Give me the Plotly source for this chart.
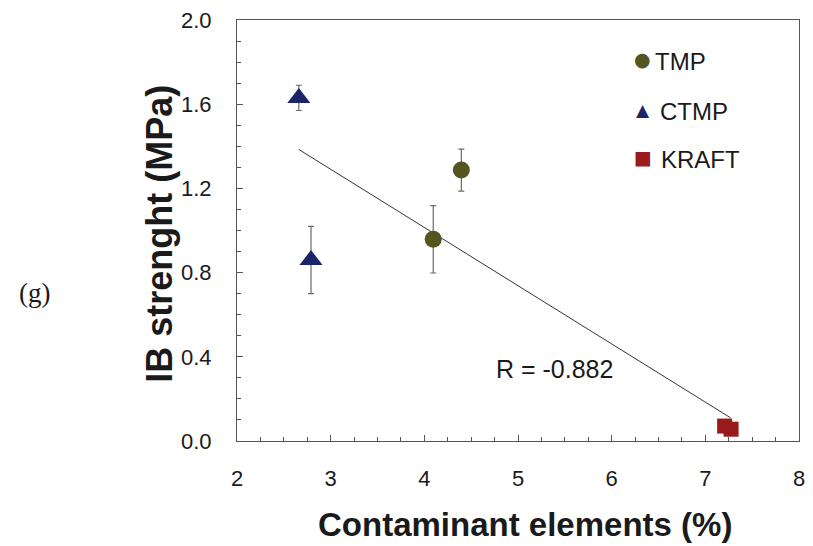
import plotly.graph_objects as go

# Data
tmp_x = [4.095, 4.395]
tmp_y = [0.958, 1.287]
tmp_err = [0.16, 0.10]

ctmp_x = [2.66, 2.79]
ctmp_y = [1.63, 0.86]
ctmp_err = [0.06, 0.16]

kraft_x = [7.206, 7.275]
kraft_y = [0.071, 0.056]

fit_x = [2.66, 7.27]
fit_y = [1.385, 0.11]

x_ticks = [2, 3, 4, 5, 6, 7, 8]
y_ticks = [0.0, 0.4, 0.8, 1.2, 1.6, 2.0]

legend_names = ["TMP", "CTMP", "KRAFT"]
legend_glyphs = ["●", "▲", "■"]
colors = ["#55551f", "#1c2569", "#9a1b1b"]

FONT = "Liberation Sans, Arial, sans-serif"
TXT = "#1a1a1a"

# plot-area geometry in pixels (for converting pixel offsets to paper units)
L, R, T, B = 237, 805, 16, 441
W, H = R - L, B - T

def px(xp):
    return (xp - L) / W

def py(yp):
    return (B - yp) / H

fig = go.Figure()

fig.add_trace(go.Scatter(
    x=fit_x, y=fit_y, mode="lines",
    line=dict(color="#333333", width=1), showlegend=False, hoverinfo="skip"))

def err(vals):
    return dict(type="data", array=vals, visible=True, color="#6a6a6a",
                thickness=1.2, width=3)

fig.add_trace(go.Scatter(
    x=tmp_x, y=tmp_y, mode="markers", name=legend_names[0],
    marker=dict(symbol="circle", size=17, color=colors[0]),
    error_y=err(tmp_err), showlegend=False))
fig.add_trace(go.Scatter(
    x=ctmp_x, y=ctmp_y, mode="markers", name=legend_names[1],
    marker=dict(symbol="triangle-up", size=20, color=colors[1]),
    error_y=err(ctmp_err), showlegend=False))
fig.add_trace(go.Scatter(
    x=kraft_x, y=kraft_y, mode="markers", name=legend_names[2],
    marker=dict(symbol="square", size=15, color=colors[2]),
    showlegend=False))

axis_common = dict(
    showline=True, linecolor="#555555", linewidth=1, mirror=True,
    ticks="inside", ticklen=6, tickwidth=1, tickcolor="#555555",
    showgrid=False, zeroline=False,
    tickfont=dict(family=FONT, size=22, color=TXT),
)

fig.update_xaxes(range=[2, 8], tickvals=x_ticks, ticktext=[str(v) for v in x_ticks],
                 minor=dict(dtick=0.25, ticks="inside", ticklen=4, tickcolor="#555555"),
                 ticklabelstandoff=18,
                 **axis_common)
fig.update_yaxes(range=[0, 2.0], tickvals=y_ticks, ticktext=[f"{v:.1f}" for v in y_ticks],
                 minor=dict(dtick=0.1, ticks="inside", ticklen=4, tickcolor="#555555"),
                 ticklabelstandoff=20,
                 **axis_common)

fig.add_annotation(x=5.386, y=0.344, xref="x", yref="y", text="R = -0.882",
                   showarrow=False, font=dict(family=FONT, size=25, color=TXT))
fig.add_annotation(x=px(528), y=py(525), xref="paper", yref="paper",
                   text="<b>Contaminant elements (%)</b>", showarrow=False,
                   xanchor="center", yanchor="middle",
                   font=dict(family=FONT, size=33, color=TXT))
fig.add_annotation(x=px(159), y=py(232), xref="paper", yref="paper",
                   text="<b>IB strenght (MPa)</b>", showarrow=False, textangle=-90,
                   xanchor="center", yanchor="middle",
                   font=dict(family=FONT, size=36, color=TXT))
fig.add_annotation(x=px(32), y=py(292), xref="paper", yref="paper",
                   xanchor="center", yanchor="middle",
                   text="(g)", showarrow=False,
                   font=dict(family="Liberation Serif, Times New Roman, serif", size=27, color=TXT))

# legend drawn as text
leg_y = [58, 108, 157]
glyph_dy = [-3, -1, -3]
leg_text_x = [657, 662, 663]
glyph_sizes = [19, 17, 19]
for name, glyph, col, yy, dy, tx, gs in zip(legend_names, legend_glyphs, colors, leg_y,
                                            glyph_dy, leg_text_x, glyph_sizes):
    fig.add_annotation(x=px(647), y=py(yy + dy), xref="paper", yref="paper",
                       text=glyph, showarrow=False, xanchor="center", yanchor="middle",
                       font=dict(family="DejaVu Sans", size=gs, color=col))
    fig.add_annotation(x=px(tx), y=py(yy), xref="paper", yref="paper",
                       text=name, showarrow=False, xanchor="left", yanchor="middle",
                       font=dict(family=FONT, size=24, color=TXT))

fig.update_layout(
    width=813, height=546,
    margin=dict(l=L, r=813 - R, t=T, b=546 - B),
    paper_bgcolor="white", plot_bgcolor="white",
    showlegend=False,
)

fig.write_html("out.html")
